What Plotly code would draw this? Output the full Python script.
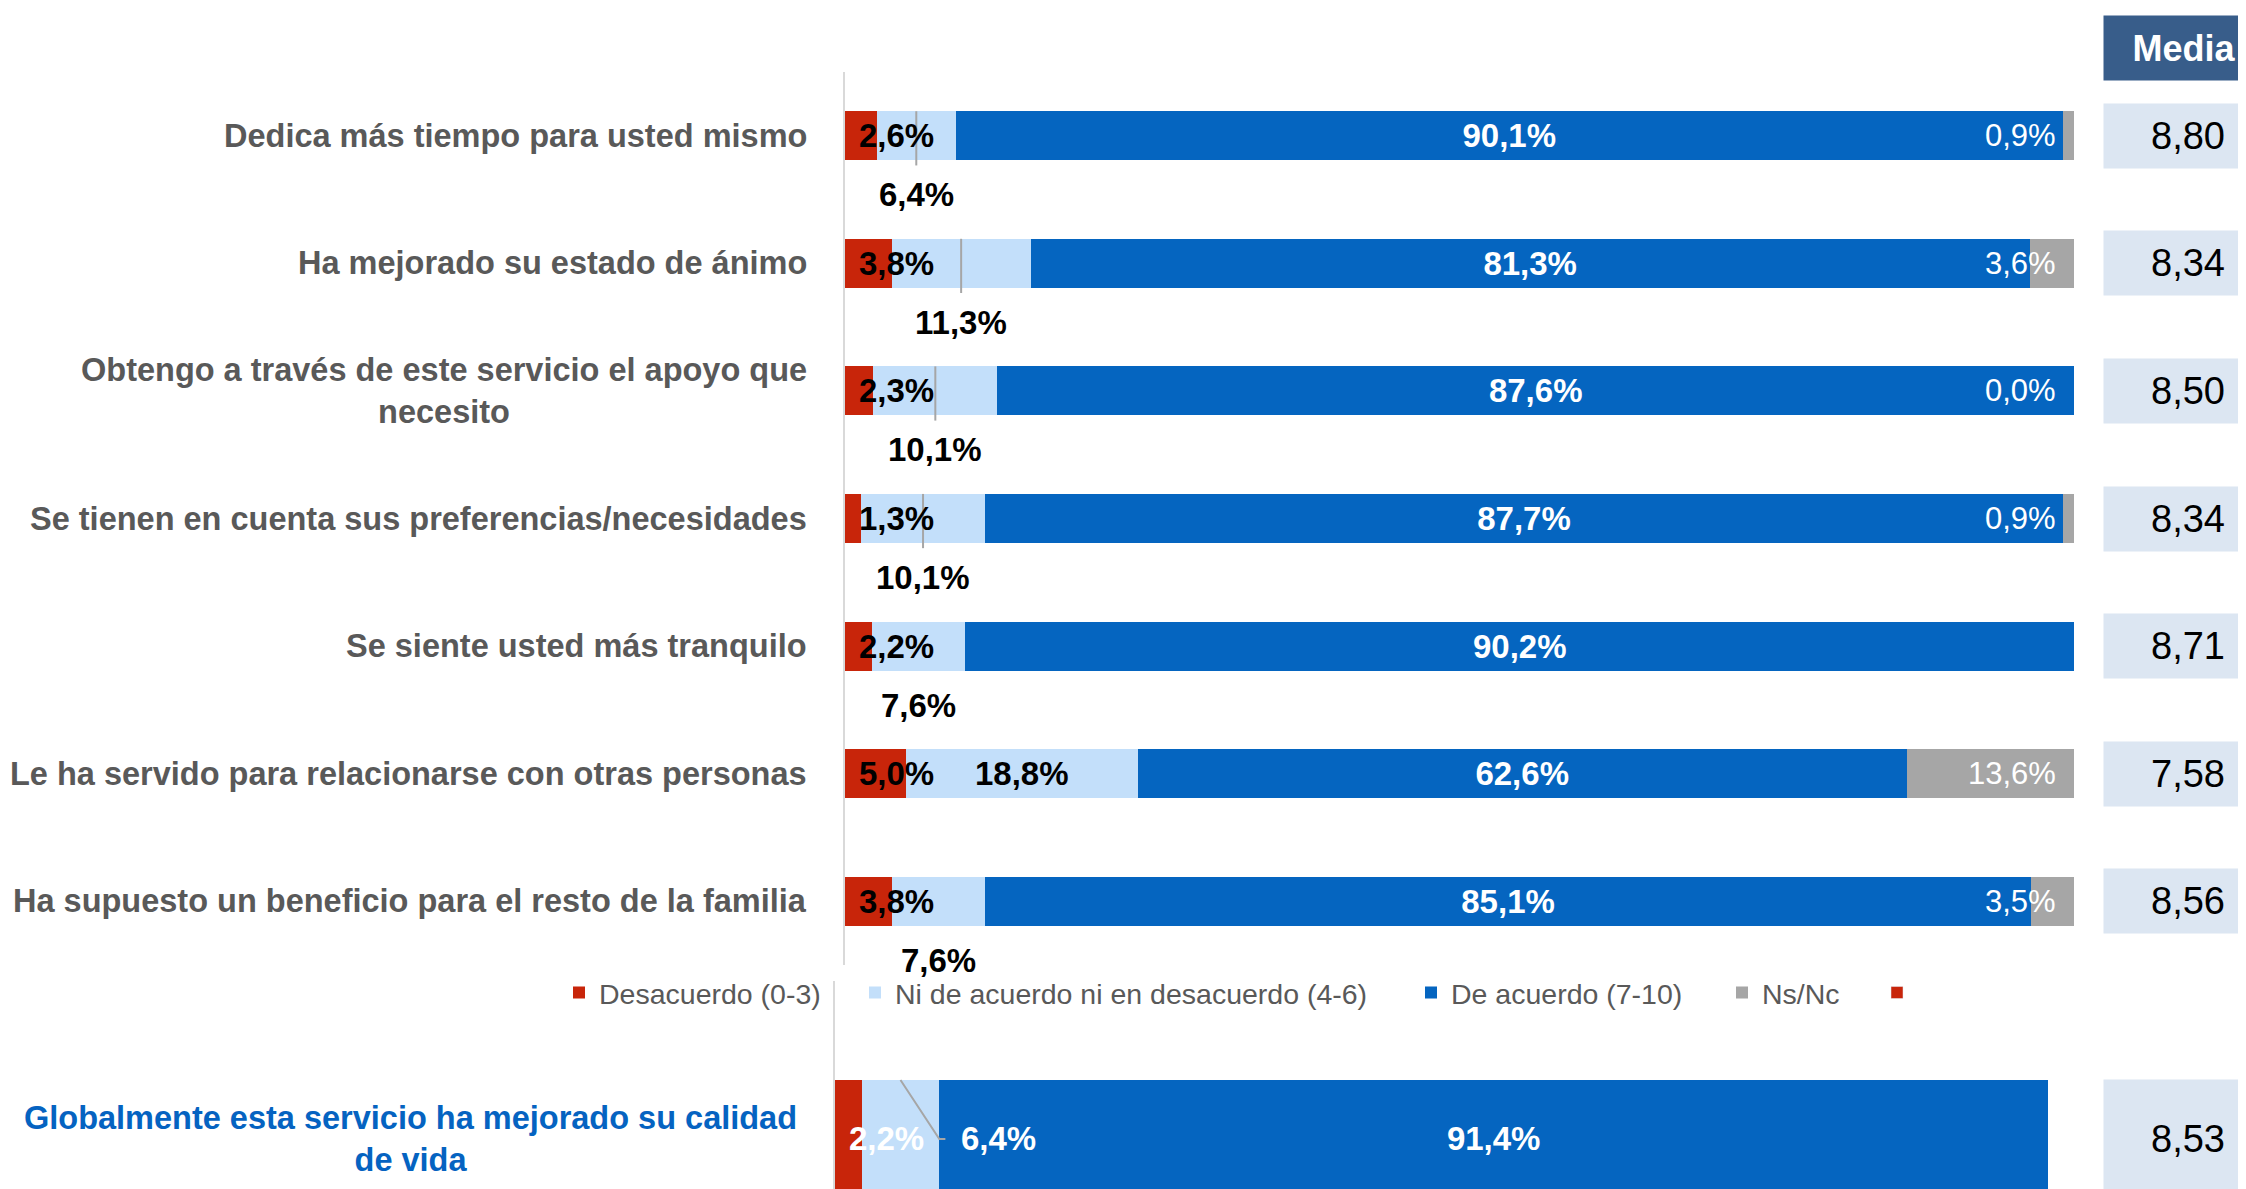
import plotly.graph_objects as go

# --- datos ---------------------------------------------------------------
categorias = [
    "Dedica más tiempo para usted mismo",
    "Ha mejorado su estado de ánimo",
    "Obtengo a través de este servicio el apoyo que<br>necesito",
    "Se tienen en cuenta sus preferencias/necesidades",
    "Se siente usted más tranquilo",
    "Le ha servido para relacionarse con otras personas",
    "Ha supuesto un beneficio para el resto de la familia",
]
desacuerdo = [2.6, 3.8, 2.3, 1.3, 2.2, 5.0, 3.8]
ni_ni = [6.4, 11.3, 10.1, 10.1, 7.6, 18.8, 7.6]
de_acuerdo = [90.1, 81.3, 87.6, 87.7, 90.2, 62.6, 85.1]
ns_nc = [0.9, 3.6, 0.0, 0.9, None, 13.6, 3.5]
media = [8.80, 8.34, 8.50, 8.34, 8.71, 7.58, 8.56]

global_label = "Globalmente esta servicio ha mejorado su calidad<br>de vida"
global_desacuerdo = 2.2
global_ni_ni = 6.4
global_de_acuerdo = 91.4
global_media = 8.53

series = ["Desacuerdo (0-3)", "Ni de acuerdo ni en desacuerdo (4-6)",
          "De acuerdo (7-10)", "Ns/Nc", ""]

# --- estilo --------------------------------------------------------------
ROJO = "#C8250A"
CELESTE = "#C3DFFA"
AZUL = "#0565C0"
GRIS = "#A6A6A6"
TEXTO = "#595959"
FONT = "Liberation Sans"
OFF = 8  # margen del body de la página
W = 2246 - OFF
H = 1189 - OFF
BAR_W = 0.385
leader_rows = [0, 1, 2, 3]


def px(x):
    return (x - OFF) / W


def py(y):
    return 1 - (y - OFF) / H


def pct(v):
    return f"{v:.1f}".replace(".", ",") + "%"


def num(v):
    return f"{v:.2f}".replace(".", ",")


rows = list(range(len(categorias)))
fig = go.Figure()

colores = [ROJO, CELESTE, AZUL, GRIS]
valores = [desacuerdo, ni_ni, de_acuerdo, [v if v is not None else 0 for v in ns_nc]]
for k, (vals, col) in enumerate(zip(valores, colores)):
    fig.add_trace(go.Bar(
        x=vals, y=rows, orientation="h", width=BAR_W,
        marker=dict(color=col, line=dict(width=0)),
        name=series[k], legend="legend" if k == 0 else f"legend{k + 1}",
        text=[pct(v) for v in vals] if k == 2 else None,
        textposition="inside" if k == 2 else "none",
        insidetextanchor="middle",
        textfont=dict(family=FONT, size=33, color="white", weight="bold"),
        xaxis="x", yaxis="y", hoverinfo="skip",
    ))

# serie vacía de la leyenda
fig.add_trace(go.Bar(x=[None], y=[None], orientation="h", name=series[4],
                     marker=dict(color=ROJO), legend="legend5",
                     xaxis="x", yaxis="y"))

# gráfico global
gvals = [global_desacuerdo, global_ni_ni, global_de_acuerdo]
for k, (v, col) in enumerate(zip(gvals, colores)):
    fig.add_trace(go.Bar(
        x=[v], y=[0], orientation="h", width=1,
        marker=dict(color=col, line=dict(width=0)), showlegend=False,
        text=[pct(v)] if k == 2 else None,
        textposition="inside" if k == 2 else "none",
        insidetextanchor="middle",
        textfont=dict(family=FONT, size=33, color="white", weight="bold"),
        xaxis="x2", yaxis="y2", hoverinfo="skip",
    ))

ann = []
shapes = []
bold_black = dict(family=FONT, size=33, color="black", weight="bold")

for i in rows:
    # etiqueta de categoría
    ann.append(dict(x=px(809), xref="paper", y=i, yref="y", xanchor="right",
                    align="center", text=categorias[i], showarrow=False,
                    font=dict(family=FONT, size=32.5, color=TEXTO, weight="bold")))
    # desacuerdo
    ann.append(dict(x=0, xref="x", y=i, yref="y", xanchor="left", xshift=12,
                    text=pct(desacuerdo[i]), showarrow=False, font=bold_black))
    # ni de acuerdo ni en desacuerdo
    mid = desacuerdo[i] + ni_ni[i] / 2
    inside = ni_ni[i] >= 15
    ann.append(dict(x=mid, xref="x", y=i, yref="y", xanchor="center",
                    yshift=0 if inside else -59, text=pct(ni_ni[i]),
                    showarrow=False, font=bold_black))
    if i in leader_rows:
        shapes.append(dict(type="line", xref="x", yref="y", x0=mid, x1=mid,
                           y0=i - BAR_W / 2, y1=i + BAR_W / 2 + 0.04,
                           line=dict(color=GRIS, width=2)))
    # ns/nc
    if ns_nc[i] is not None:
        ann.append(dict(x=100, xref="x", y=i, yref="y", xanchor="right", xshift=-16,
                        text=pct(ns_nc[i]), showarrow=False,
                        font=dict(family=FONT, size=31, color="white")))
    # media
    ann.append(dict(x=px(2103), xref="paper", y=i, yref="y", xanchor="left",
                    width=166, height=62, bgcolor="#DCE6F2", align="center",
                    text=num(media[i]), showarrow=False,
                    font=dict(family=FONT, size=38, color="black")))

# cabecera Media
ann.append(dict(x=px(2103), xref="paper", y=py(48), yref="paper", xanchor="left",
                yanchor="middle", width=158, height=62, bgcolor="#385D8A",
                align="center", text="Media", showarrow=False,
                font=dict(family=FONT, size=36, color="white", weight="bold")))

# global
ann.append(dict(x=px(799), xref="paper", y=0, yref="y2", xanchor="right",
                align="center", text=global_label, showarrow=False,
                font=dict(family=FONT, size=32.5, color="#0563C1", weight="bold")))
ann.append(dict(x=0, xref="x2", y=0, yref="y2", xanchor="left", xshift=12,
                text=pct(global_desacuerdo), showarrow=False,
                font=dict(family=FONT, size=33, color="white", weight="bold")))
gend = global_desacuerdo + global_ni_ni
ann.append(dict(x=gend, xref="x2", y=0, yref="y2", xanchor="left", xshift=20,
                text=pct(global_ni_ni), showarrow=False,
                font=dict(family=FONT, size=33, color="white", weight="bold")))
gmid = global_desacuerdo + global_ni_ni / 2
shapes.append(dict(type="path", xref="x2", yref="y2",
                   path=f"M {gmid},0.5 L {gend},0 L {gend + 0.5},0",
                   line=dict(color=GRIS, width=2)))
ann.append(dict(x=px(2103), xref="paper", y=0, yref="y2", xanchor="left",
                width=166, height=116, bgcolor="#DCE6F2", align="center",
                text=num(global_media), showarrow=False,
                font=dict(family=FONT, size=38, color="black")))

leg = dict(orientation="h", y=py(993), yanchor="middle", xanchor="left",
           bgcolor="rgba(0,0,0,0)", font=dict(family=FONT, size=28.5, color=TEXTO))
leg_x = [573, 869, 1425, 1736, 1891]

fig.update_layout(
    width=W, height=H, barmode="stack",
    margin=dict(l=0, r=0, t=0, b=0),
    paper_bgcolor="white", plot_bgcolor="white",
    xaxis=dict(domain=[px(845), px(2074)], range=[0, 100], visible=False,
               anchor="y"),
    yaxis=dict(domain=[py(965), py(72)], range=[6.5, -0.5],
               showticklabels=False, showgrid=False, zeroline=False,
               showline=True, linecolor="#D9D9D9", linewidth=2, anchor="x"),
    xaxis2=dict(domain=[px(835), px(2048)], range=[0, 100], visible=False,
                anchor="y2"),
    yaxis2=dict(domain=[0, py(981)], range=[-0.424, 1.339],
                showticklabels=False, showgrid=False, zeroline=False,
                showline=True, linecolor="#D9D9D9", linewidth=2, anchor="x2"),
    annotations=ann, shapes=shapes,
    legend=dict(leg, x=px(leg_x[0] - 14)),
    legend2=dict(leg, x=px(leg_x[1] - 14)),
    legend3=dict(leg, x=px(leg_x[2] - 14)),
    legend4=dict(leg, x=px(leg_x[3] - 14)),
    legend5=dict(leg, x=px(leg_x[4] - 14)),
)

fig.write_html("out.html")
